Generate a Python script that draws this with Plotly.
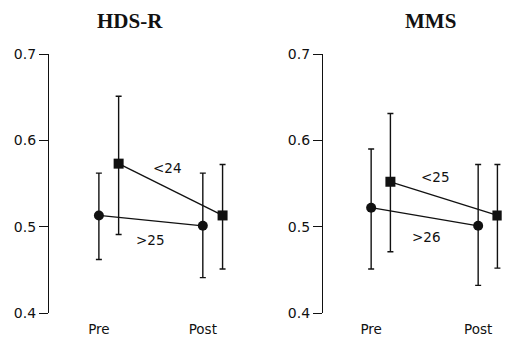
import plotly.graph_objects as go

# Time points
categories = ["Pre", "Post"]
y_ticks = [0.4, 0.5, 0.6, 0.7]

# HDS-R panel: means and error-bar limits per group
hds_high_mean = [0.513, 0.501]   # >25
hds_high_upper = [0.562, 0.562]
hds_high_lower = [0.462, 0.441]
hds_low_mean = [0.573, 0.513]    # <24
hds_low_upper = [0.651, 0.572]
hds_low_lower = [0.491, 0.451]

# MMS panel
mms_high_mean = [0.522, 0.501]   # >26
mms_high_upper = [0.590, 0.572]
mms_high_lower = [0.451, 0.432]
mms_low_mean = [0.552, 0.513]    # <25
mms_low_upper = [0.631, 0.572]
mms_low_lower = [0.471, 0.452]

FONT = "DejaVu Sans"
INK = "#111111"


def err(mean, upper, lower):
    return dict(type="data", symmetric=False,
                array=[u - m for u, m in zip(upper, mean)],
                arrayminus=[m - l for m, l in zip(mean, lower)],
                color=INK, thickness=1.4, width=3)


def group(xs, mean, upper, lower, symbol, xa, ya):
    return go.Scatter(x=xs, y=mean, mode="lines+markers",
                      line=dict(color=INK, width=1.3),
                      marker=dict(symbol=symbol, size=10, color=INK),
                      error_y=err(mean, upper, lower),
                      xaxis=xa, yaxis=ya, showlegend=False, hoverinfo="skip")


base_x = list(range(len(categories)))
fig = go.Figure()
fig.add_trace(group(base_x, hds_high_mean, hds_high_upper, hds_high_lower, "circle", "x", "y"))
fig.add_trace(group([v + 0.19 for v in base_x], hds_low_mean, hds_low_upper, hds_low_lower, "square", "x", "y"))
fig.add_trace(group(base_x, mms_high_mean, mms_high_upper, mms_high_lower, "circle", "x2", "y2"))
fig.add_trace(group([v + 0.18 for v in base_x], mms_low_mean, mms_low_upper, mms_low_lower, "square", "x2", "y2"))

xcommon = dict(tickmode="array", tickvals=base_x, ticktext=categories,
               showline=False, showgrid=False, zeroline=False, automargin=False,
               ticks="outside", ticklen=4, tickcolor="rgba(0,0,0,0)",
               tickfont=dict(family=FONT, size=13.5, color=INK), fixedrange=True)
ycommon = dict(range=[0.4, 0.7], tickmode="array", tickvals=y_ticks,
               ticktext=[f"{v:.1f}" for v in y_ticks], automargin=False,
               showline=True, linecolor=INK, linewidth=1.3,
               ticks="outside", ticklen=9, tickwidth=1.3, tickcolor=INK,
               showgrid=False, zeroline=False,
               tickfont=dict(family=FONT, size=14, color=INK), fixedrange=True)

ydom = [24 / 337, 283 / 337]
fig.update_layout(
    width=505, height=337,
    margin=dict(l=0, r=0, t=0, b=0, pad=0),
    paper_bgcolor="white", plot_bgcolor="white",
    xaxis=dict(domain=[49 / 505, 234 / 505], range=[-0.48, 1.3], anchor="y", **xcommon),
    yaxis=dict(domain=ydom, anchor="x", **ycommon),
    xaxis2=dict(domain=[323 / 505, 501.7 / 505], range=[-0.45, 1.22], anchor="y2", **xcommon),
    yaxis2=dict(domain=ydom, anchor="x2", **ycommon),
)

label_font = dict(family=FONT, size=13.5, color=INK)
title_font = dict(family="Liberation Serif", size=21, color=INK)
common_ann = dict(showarrow=False, xanchor="center", yanchor="middle")
annotations = [
    dict(text="<24", x=0.663, y=0.568, xref="x", yref="y", font=label_font, **common_ann),
    dict(text=">25", x=0.50, y=0.4846, xref="x", yref="y", font=label_font, **common_ann),
    dict(text="<25", x=0.598, y=0.5575, xref="x2", yref="y2", font=label_font, **common_ann),
    dict(text=">26", x=0.514, y=0.488, xref="x2", yref="y2", font=label_font, **common_ann),
    dict(text="<b>HDS-R</b>", x=130 / 505, y=1 - 21 / 337, xref="paper", yref="paper",
         font=title_font, **common_ann),
    dict(text="<b>MMS</b>", x=430 / 505, y=1 - 21 / 337, xref="paper", yref="paper",
         font=title_font, **common_ann),
]
fig.update_layout(annotations=annotations)

fig.write_html("out.html")
